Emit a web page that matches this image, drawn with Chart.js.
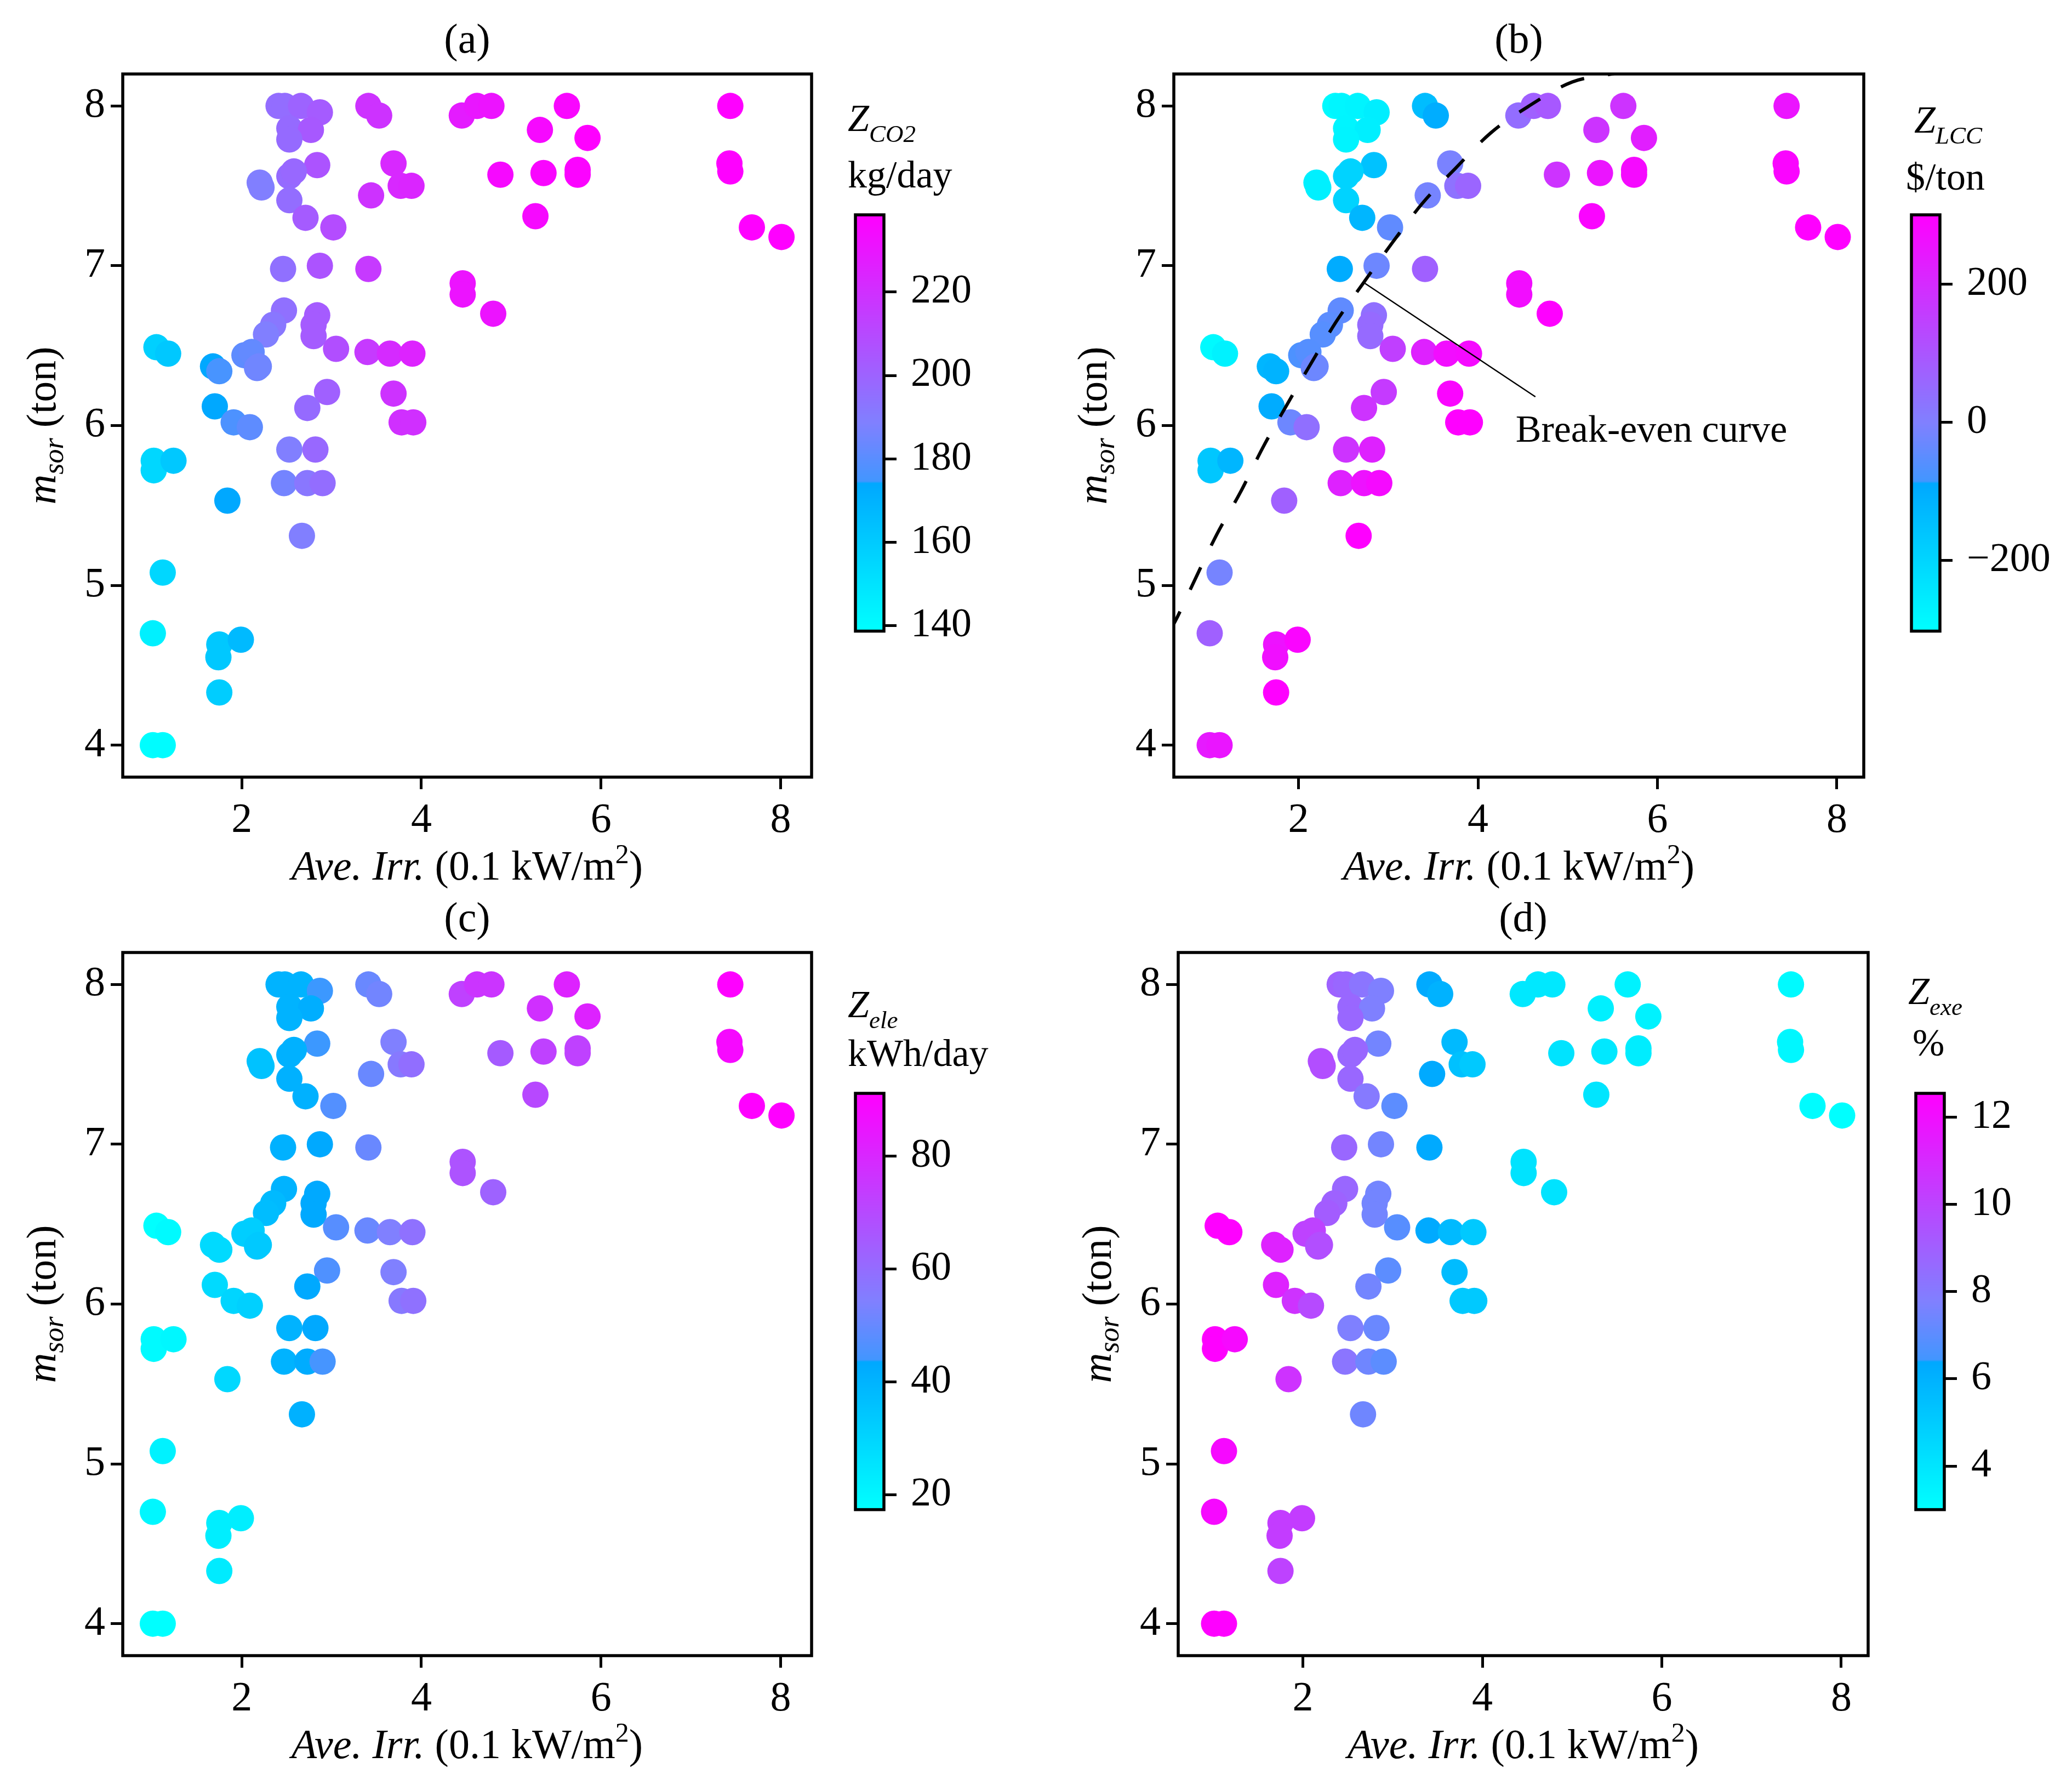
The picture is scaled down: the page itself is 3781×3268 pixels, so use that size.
<!DOCTYPE html>
<html>
<head>
<meta charset="utf-8">
<script src="https://cdn.jsdelivr.net/npm/chart.js@4/dist/chart.umd.min.js"></script>
<style>
html,body{margin:0;padding:0;background:#fff;}
#page{position:relative;width:3781px;height:3268px;background:#fff;overflow:hidden;}
canvas{position:absolute;}
</style>
</head>
<body>
<div id="page"></div>
<script>
// ---------------- DATA ----------------
const irr = [2.41,2.48,2.66,2.87,2.53,2.77,2.53,3.41,3.53,4.45,4.62,4.78,5.62,5.32,5.85,7.44,3.69,3.77,3.89,3.44,
             2.84,2.53,2.58,2.20,2.22,2.53,2.71,3.02,4.88,5.36,5.74,5.74,5.27,7.43,7.44,7.68,8.01,2.46,2.87,3.41,
             4.46,4.46,4.80,2.47,2.35,2.27,2.84,2.80,2.80,3.05,3.40,3.65,3.90,1.05,1.18,1.68,1.75,2.03,2.11,2.17,
             2.19,2.95,2.73,3.69,3.78,3.91,1.70,1.91,2.09,2.53,2.82,2.47,2.73,2.90,2.67,1.02,1.02,1.24,1.84,1.12,
             1.01,1.75,1.99,1.74,1.75,1.01,1.12];
const msor = [8.00,8.00,8.00,7.96,7.86,7.85,7.79,8.00,7.94,7.94,8.00,8.00,8.00,7.85,7.80,8.00,7.64,7.50,7.50,7.44,
              7.63,7.56,7.59,7.52,7.49,7.41,7.30,7.24,7.57,7.58,7.60,7.57,7.31,7.64,7.59,7.24,7.18,6.98,7.00,6.98,
              6.89,6.82,6.70,6.72,6.63,6.57,6.69,6.63,6.56,6.48,6.46,6.45,6.45,6.49,6.45,6.37,6.34,6.44,6.46,6.36,
              6.37,6.21,6.11,6.20,6.02,6.02,6.12,6.02,5.99,5.85,5.85,5.64,5.64,5.64,5.31,5.78,5.72,5.78,5.53,5.08,
              4.70,4.63,4.66,4.55,4.33,4.00,4.00];
const zCO2 = [196,196,200,203,197,204,197,219,219,228,230,231,236,235,238,238,223,223,224,219,
              206,197,198,189,189,196,203,209,235,236,237,237,235,238,238,238,238,195,206,216,
              231,231,231,195,192,189,203,203,203,208,216,222,225,158,161,174,176,181,182,185,
              185,201,197,219,220,220,174,177,181,189,198,186,192,196,189,155,155,161,174,155,
              145,161,167,161,159,139,140];
const zLCC = [-290,-280,-275,-260,-278,-262,-275,-140,-100,44,74,92,181,180,229,252,-9,32,62,-15,
              -152,-194,-194,-265,-265,-194,-122,-45,181,252,276,276,288,288,288,298,298,-99,-27,74,
              270,270,298,-45,-50,-57,38,50,50,151,222,270,276,-290,-270,-122,-115,-70,-60,-27,
              -27,163,181,288,298,298,-99,-27,38,181,222,222,258,276,298,-164,-164,-122,74,-15,
              74,258,288,264,298,240,250];
const zEle = [40.2,40.2,40.2,43.9,40.2,41.7,40.2,50.5,52.0,72.5,76.1,76.1,81.3,77.6,81.3,90.8,54.2,56.3,59.3,50.5,
              43.9,41.0,41.0,35.8,35.8,41.0,41.0,46.8,65.1,72.5,72.5,72.5,70.3,88.6,88.6,90.8,90.8,41.0,43.2,50.5,
              67.3,67.3,63.0,40.2,38.0,37.3,43.2,43.2,43.2,47.5,50.5,54.2,58.5,17.5,19.0,28.5,28.5,32.2,32.2,33.6,
              33.6,46.1,43.2,54.2,56.3,58.5,28.5,30.0,31.4,40.2,43.2,40.2,42.4,44.6,41.0,19.0,19.0,19.7,29.2,21.2,
              19.7,22.6,22.6,22.6,23.4,17.5,17.5];
const zExe = [8.9,8.7,8.2,7.75,8.7,7.75,8.7,6.3,6.0,3.9,3.9,3.9,3.5,3.6,3.5,3.2,5.7,5.4,5.1,6.3,
              7.5,8.7,8.7,9.65,9.65,8.7,8.0,7.0,4.1,3.9,3.7,3.7,4.0,3.3,3.3,3.1,3.0,8.7,7.5,6.3,
              4.1,4.1,4.1,8.7,8.9,9.1,7.5,7.5,7.5,6.9,6.3,5.7,5.1,12.5,12.5,11.3,11.3,10.1,10.1,9.65,
              9.65,7.0,7.5,5.6,5.1,5.1,11.3,10.7,9.8,7.75,7.3,8.2,7.4,7.0,7.4,12.5,12.5,12.2,10.7,12.2,
              12.2,10.3,10.3,10.3,10.1,12.5,12.5];
// break-even curve (panel b)
const curveIrr  = [0.55,0.63,0.79,1.09,1.35,1.60,1.85,2.13,2.42,2.72,3.04,3.38,3.75,4.14,4.57,5.05,5.49,5.90];
const curveMsor = [4.70,4.78,4.97,5.32,5.58,5.86,6.11,6.38,6.65,6.89,7.14,7.39,7.61,7.83,8.00,8.15,8.20,8.24];
// annotation leader line (panel b)
const noteIrr  = [2.74,4.64];
const noteMsor = [6.89,6.18];
const noteText = 'Break-even curve';
const noteAt = [4.42,5.90];
// ticks
const xTicks = [2,4,6,8];
const yTicks = [4,5,6,7,8];
const cbTicksCO2 = [140,160,180,200,220];
const cbTicksLCC = [-200,0,200];
const cbTicksEle = [20,40,60,80];
const cbTicksExe = [4,6,8,10,12];
const cbRangeCO2 = [138.7,238.5];
const cbRangeLCC = [-302,300];
const cbRangeEle = [17.4,91.1];
const cbRangeExe = [3.0,12.55];

// ---------------- STYLE ----------------
const FONT = '"Liberation Serif","Times New Roman",serif';
const cmapStops = [[0,0,255,255],[0.355,0,168,255],[0.36,66,150,255],[0.5,128,128,255],[1,255,0,255]];
function cmap(t){
  t = Math.max(0, Math.min(1, t));
  for (let i = 1; i < cmapStops.length; i++){
    const a = cmapStops[i-1], b = cmapStops[i];
    if (t <= b[0]){
      const f = (t - a[0]) / (b[0] - a[0] || 1);
      const c = [1,2,3].map(k => Math.round(a[k] + (b[k]-a[k])*f));
      return 'rgb(' + c.join(',') + ')';
    }
  }
  return 'rgb(255,0,255)';
}
const FRAME_W = 5.5;
const TICK_FS = 76;

Chart.defaults.font.family = FONT;
Chart.defaults.color = '#000';
Chart.defaults.animation = false;

const page = document.getElementById('page');
function mkCanvas(x, y, w, h){
  const c = document.createElement('canvas');
  c.width = w; c.height = h;
  c.style.left = x + 'px'; c.style.top = y + 'px';
  c.style.width = w + 'px'; c.style.height = h + 'px';
  page.appendChild(c);
  return c;
}
function fontStr(s){ return (s.it ? 'italic ' : '') + s.sz + 'px ' + FONT; }
function rich(ctx, segs, x, y, align){
  let w = 0;
  segs.forEach(s => { ctx.font = fontStr(s); s.w = ctx.measureText(s.t).width; w += s.w; });
  let cx = align === 'center' ? x - w/2 : x;
  ctx.textAlign = 'left'; ctx.textBaseline = 'alphabetic'; ctx.fillStyle = '#000';
  segs.forEach(s => { ctx.font = fontStr(s); ctx.fillText(s.t, cx, y + (s.dy || 0)); cx += s.w; });
}
const framePlugin = {
  id: 'frame',
  afterDatasetsDraw(chart){
    const {ctx, chartArea: a} = chart;
    ctx.save(); ctx.lineWidth = FRAME_W; ctx.strokeStyle = '#000';
    ctx.strokeRect(a.left, a.top, a.right - a.left, a.bottom - a.top);
    ctx.restore();
  }
};
function tickGrid(len){
  return {display: true, drawOnChartArea: false, drawTicks: true, tickLength: len, tickWidth: 5, tickColor: '#000'};
}

const panels = [
  {title:'(a)', area:{l:224,t:135,r:1481,b:1418}, xr:[0.675,8.345], values:zCO2, range:cbRangeCO2, cbTicks:cbTicksCO2,
   cbArea:{l:1561,t:392,r:1613,b:1162}, sub:'CO2', unit:'kg/day', lab:{z:[-14,-153], u:[-14,-50]}},
  {title:'(b)', area:{l:2142,t:135,r:3401,b:1418}, xr:[0.61,8.30], values:zLCC, range:cbRangeLCC, cbTicks:cbTicksLCC,
   cbArea:{l:3488,t:392,r:3540,b:1162}, sub:'LCC', unit:'$/ton', lab:{z:[5,-150], u:[-10,-46]}, curve:true},
  {title:'(c)', area:{l:224,t:1738,r:1481,b:3021}, xr:[0.675,8.345], values:zEle, range:cbRangeEle, cbTicks:cbTicksEle,
   cbArea:{l:1561,t:1995,r:1613,b:2765}, sub:'ele', unit:'kWh/day', lab:{z:[-14,-139], u:[-14,-50]}},
  {title:'(d)', area:{l:2150,t:1738,r:3409,b:3021}, xr:[0.61,8.30], values:zExe, range:cbRangeExe, cbTicks:cbTicksExe,
   cbArea:{l:3496,t:1995,r:3548,b:2765}, sub:'exe', unit:'%', lab:{z:[-14,-163], u:[-6,-69]}}
];

function scatterPanel(p){
  const PADL = 260, PADT = 150, PADR = 40, PADB = 270, YW = 240, XH = 250;
  const a = p.area;
  const cv = mkCanvas(a.l - PADL, a.t - PADT, (a.r - a.l) + PADL + PADR, (a.b - a.t) + PADT + PADB);
  const colors = p.values.map(v => cmap((v - p.range[0]) / (p.range[1] - p.range[0])));
  const datasets = [{
    type: 'scatter',
    data: irr.map((x, i) => ({x: x, y: msor[i]})),
    backgroundColor: colors, borderWidth: 0,
    pointRadius: 24, pointHoverRadius: 24, order: 2
  }];
  if (p.curve){
    datasets.push({
      type: 'line', data: curveIrr.map((x, i) => ({x: x, y: curveMsor[i]})),
      borderColor: '#000', borderWidth: 6, borderDash: [45, 44], pointRadius: 0,
      cubicInterpolationMode: 'monotone', fill: false, clip: 0, order: 0
    });
    datasets.push({
      type: 'line', data: noteIrr.map((x, i) => ({x: x, y: noteMsor[i]})),
      borderColor: '#000', borderWidth: 2.5, pointRadius: 0, fill: false, clip: 0, order: 0
    });
  }
  const textPlugin = {
    id: 'texts',
    afterDraw(chart){
      const {ctx, chartArea: ca} = chart;
      const cx = (ca.left + ca.right) / 2, cy = (ca.top + ca.bottom) / 2;
      ctx.save();
      rich(ctx, [{t: p.title, sz: 76}], cx, ca.top - 39, 'center');
      rich(ctx, [{t:'Ave. Irr.', it:1, sz:76}, {t:' (0.1 kW/m', sz:76}, {t:'2', sz:50, dy:-30}, {t:')', sz:76}],
           cx, ca.bottom + 187, 'center');
      ctx.save();
      ctx.translate(ca.left - 123, cy);
      ctx.rotate(-Math.PI / 2);
      rich(ctx, [{t:'m', it:1, sz:76}, {t:'sor', it:1, sz:52, dy:14}, {t:' (ton)', sz:76}], 0, 0, 'center');
      ctx.restore();
      if (p.curve){
        const xs = chart.scales.x, ys = chart.scales.y;
        rich(ctx, [{t: noteText, sz: 70}], xs.getPixelForValue(noteAt[0]), ys.getPixelForValue(noteAt[1]), 'left');
      }
      ctx.restore();
    }
  };
  new Chart(cv, {
    type: 'scatter',
    data: {datasets: datasets},
    options: {
      responsive: false, animation: false, events: [],
      layout: {autoPadding: false, padding: {left: PADL - YW, top: PADT, right: PADR, bottom: PADB - XH}},
      plugins: {legend: {display: false}, tooltip: {enabled: false}, title: {display: false}},
      scales: {
        x: {
          type: 'linear', min: p.xr[0], max: p.xr[1],
          afterFit: s => { s.height = XH; },
          afterBuildTicks: s => { s.ticks = xTicks.map(v => ({value: v})); },
          ticks: {font: {size: TICK_FS}, padding: 12, color: '#000', maxRotation: 0, autoSkip: false},
          grid: tickGrid(22), border: {display: false}
        },
        y: {
          type: 'linear', min: 3.8, max: 8.2,
          afterFit: s => { s.width = YW; },
          afterBuildTicks: s => { s.ticks = yTicks.map(v => ({value: v})); },
          ticks: {font: {size: TICK_FS}, padding: 10, color: '#000', autoSkip: false},
          grid: tickGrid(22), border: {display: false}
        }
      }
    },
    plugins: [framePlugin, textPlugin]
  });
}

function colorbar(p){
  const PADL = 40, PADT = 240, PADR = 40, PADB = 60, YW = 230;
  const a = p.cbArea;
  const cv = mkCanvas(a.l - PADL, a.t - PADT, (a.r - a.l) + PADL + YW + PADR, (a.b - a.t) + PADT + PADB);
  const gradPlugin = {
    id: 'grad',
    beforeDatasetsDraw(chart){
      const {ctx, chartArea: ca} = chart;
      const ys = chart.scales.y;
      ctx.save();
      for (let y = Math.floor(ca.top); y < Math.ceil(ca.bottom); y++){
        const v = ys.getValueForPixel(y + 0.5);
        ctx.fillStyle = cmap((v - p.range[0]) / (p.range[1] - p.range[0]));
        ctx.fillRect(ca.left, y, ca.right - ca.left, 1);
      }
      ctx.restore();
    }
  };
  const labPlugin = {
    id: 'cblab',
    afterDraw(chart){
      const {ctx, chartArea: ca} = chart;
      ctx.save();
      rich(ctx, [{t:'Z', it:1, sz:70}, {t:p.sub, it:1, sz:45, dy:20}], ca.left + p.lab.z[0], ca.top + p.lab.z[1], 'left');
      rich(ctx, [{t:p.unit, sz:70}], ca.left + p.lab.u[0], ca.top + p.lab.u[1], 'left');
      ctx.restore();
    }
  };
  new Chart(cv, {
    type: 'scatter',
    data: {datasets: []},
    options: {
      responsive: false, animation: false, events: [],
      layout: {autoPadding: false, padding: {left: PADL, top: PADT, right: PADR, bottom: PADB}},
      plugins: {legend: {display: false}, tooltip: {enabled: false}},
      scales: {
        x: {display: false, min: 0, max: 1},
        y: {
          position: 'right', min: p.range[0], max: p.range[1],
          afterFit: s => { s.width = YW; },
          afterBuildTicks: s => { s.ticks = p.cbTicks.map(v => ({value: v})); },
          ticks: {font: {size: 74}, padding: 26, color: '#000', autoSkip: false,
                  callback: v => String(v).replace('-', '\u2212')},
          grid: tickGrid(23), border: {display: false}
        }
      }
    },
    plugins: [gradPlugin, framePlugin, labPlugin]
  });
}

panels.forEach(p => { scatterPanel(p); colorbar(p); });
</script>
</body>
</html>
